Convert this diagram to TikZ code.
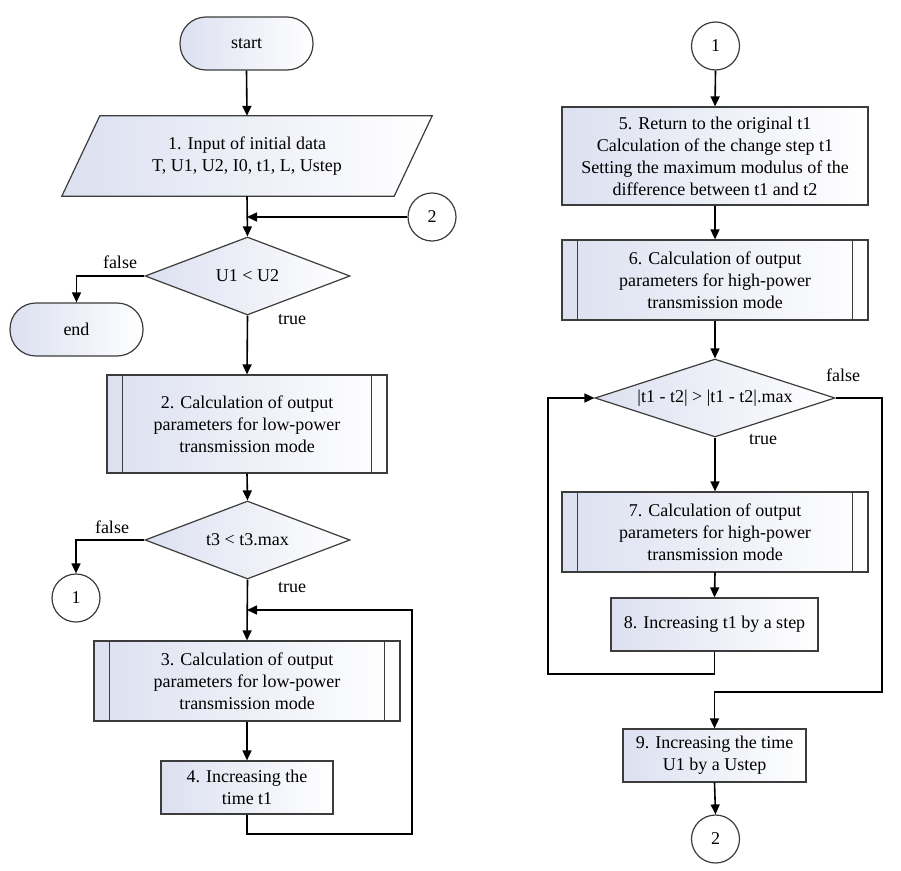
\documentclass[tikz,border=0pt]{standalone}
\usepackage{fontspec}
\setmainfont{Liberation Serif}
\usetikzlibrary{arrows.meta,shapes.geometric,calc}
\definecolor{shadeL}{RGB}{220,224,240}
\definecolor{edge}{RGB}{60,60,60}
\tikzset{
  txt/.style={font=\fontsize{18}{22}\selectfont, align=center},
  boxfill/.style={left color=shadeL, right color=white, draw=edge, line width=1.2pt},
  term/.style={txt, boxfill, rectangle, rounded corners=26pt, minimum width=133pt, minimum height=53pt, inner sep=0pt},
  procbox/.style={txt, boxfill, rectangle, inner sep=2pt},
  decis/.style={txt, boxfill, diamond, inner sep=0pt},
  conn/.style={txt, circle, draw=edge, fill=white, line width=1.2pt, minimum size=48pt, inner sep=0pt},
  lbl/.style={txt},
  arr/.style={line width=1.6pt, -{Triangle[length=10pt,width=9pt]}},
  inset/.style={draw=edge, line width=1.2pt}
}
\begin{document}
\begin{tikzpicture}[x=1pt,y=-1pt]
\useasboundingbox (0,0) rectangle (901,870);
% left column
\node[term] (start) at (246.5,43.5) {start};
\node[txt, rectangle, minimum width=294pt, minimum height=80pt, inner sep=0pt] (in) at (247,156) {};
\draw[boxfill] (in.north west) -- ($(in.north east)+(38,0)$) -- (in.south east) -- ($(in.south west)+(-38,0)$) -- cycle;
\node[txt] at (in.center) {1. Input of initial data\\T, U1, U2, I0, t1, L, Ustep};
\node[conn] (c2a) at (432,217) {2};
\node[decis, aspect=2.63, minimum width=205pt, minimum height=78pt] (d1) at (247.5,276) {U1 < U2};
\node[lbl] at (120,262) {false};
\node[lbl] at (292,320) {true};
\node[term] (end) at (76.5,329.5) {end};
\node[procbox, minimum width=280pt, minimum height=98pt] (b2) at (247,424) {2. Calculation of output\\parameters for low-power\\transmission mode};
\draw[inset] ([xshift=16pt]b2.north west) -- ([xshift=16pt]b2.south west);
\draw[inset] ([xshift=-16pt]b2.north east) -- ([xshift=-16pt]b2.south east);
\node[decis, aspect=2.63, minimum width=205pt, minimum height=78pt] (d2) at (247.5,540) {t3 < t3.max};
\node[lbl] at (112,527) {false};
\node[lbl] at (292,588) {true};
\node[conn] (c1a) at (76,598) {1};
\node[procbox, minimum width=306pt, minimum height=80pt] (b3) at (247,681) {3. Calculation of output\\parameters for low-power\\transmission mode};
\draw[inset] ([xshift=16pt]b3.north west) -- ([xshift=16pt]b3.south west);
\draw[inset] ([xshift=-16pt]b3.north east) -- ([xshift=-16pt]b3.south east);
\node[procbox, minimum width=172pt, minimum height=53pt] (b4) at (247,787.5) {4. Increasing the\\time t1};
\coordinate (j1) at (247,217);
\coordinate (j2) at (247,610);
\coordinate (lp1) at (412,834);
% left connectors
\draw[arr] (start.south) -- (in.north);
\draw[arr] (in.south) -- (d1.north);
\draw[arr] (c2a.west) -- (j1);
\draw[arr] (d1.west) -| (end.north);
\draw[arr] (d1.south) -- (b2.north);
\draw[arr] (b2.south) -- (d2.north);
\draw[arr] (d2.west) -| (c1a.north);
\draw[arr] (d2.south) -- (b3.north);
\draw[arr] (b3.south) -- (b4.north);
\draw[arr] (b4.south) |- (lp1) |- (j2);
% right column
\node[conn] (c1b) at (715.5,46) {1};
\node[procbox, minimum width=306pt, minimum height=98pt] (b5) at (715,156) {5. Return to the original t1\\Calculation of the change step t1\\Setting the maximum modulus of the\\difference between t1 and t2};
\node[procbox, minimum width=306pt, minimum height=80pt] (b6) at (715,280) {6. Calculation of output\\parameters for high-power\\transmission mode};
\draw[inset] ([xshift=16pt]b6.north west) -- ([xshift=16pt]b6.south west);
\draw[inset] ([xshift=-16pt]b6.north east) -- ([xshift=-16pt]b6.south east);
\node[decis, aspect=3.08, minimum width=240pt, minimum height=78pt] (d3) at (715,398) {|t1 - t2| > |t1 - t2|.max};
\node[lbl] at (843,375) {false};
\node[lbl] at (763,440) {true};
\node[procbox, minimum width=306pt, minimum height=80pt] (b7) at (715,532) {7. Calculation of output\\parameters for high-power\\transmission mode};
\draw[inset] ([xshift=16pt]b7.north west) -- ([xshift=16pt]b7.south west);
\draw[inset] ([xshift=-16pt]b7.north east) -- ([xshift=-16pt]b7.south east);
\node[procbox, minimum width=207pt, minimum height=53pt] (b8) at (714.5,624.5) {8. Increasing t1 by a step};
\node[procbox, minimum width=183pt, minimum height=53pt] (b9) at (714.5,755.5) {9. Increasing the time\\U1 by a Ustep};
\node[conn] (c2b) at (715.5,839) {2};
\coordinate (lp2) at (548,674);
\coordinate (fr) at (882,692);
% right connectors
\draw[arr] (c1b.south) -- (b5.north);
\draw[arr] (b5.south) -- (b6.north);
\draw[arr] (b6.south) -- (d3.north);
\draw[arr] (d3.south) -- (b7.north);
\draw[arr] (b7.south) -- (b8.north);
\draw[arr] (b8.south) |- (lp2) |- (d3.west);
\draw[arr] (d3.east) -| (fr) -| (b9.north);
\draw[arr] (b9.south) -- (c2b.north);
\end{tikzpicture}
\end{document}
